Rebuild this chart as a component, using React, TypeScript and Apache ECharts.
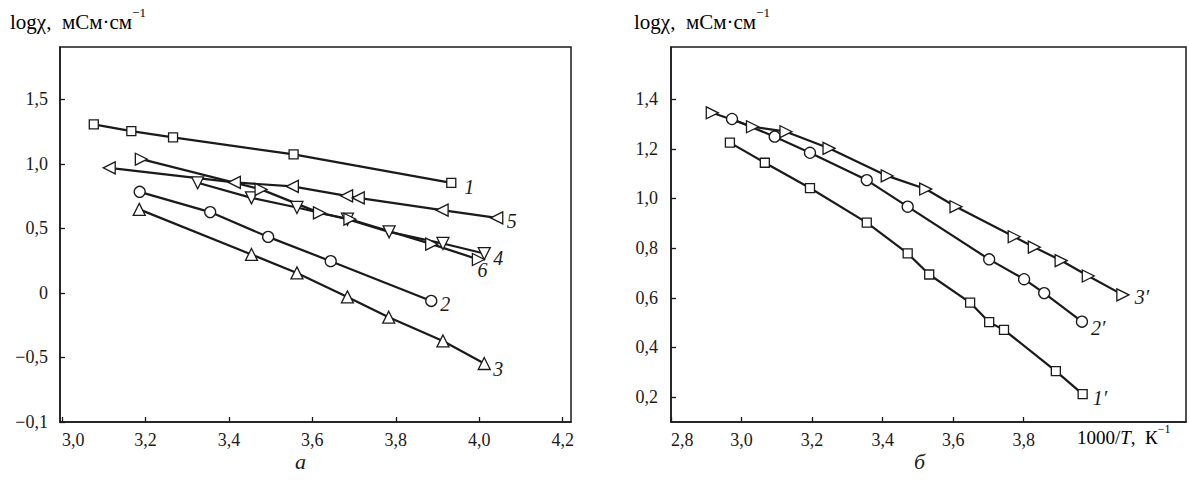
import React, { useEffect, useRef } from "react";
import * as echarts from "echarts";

// ---- Panel a (left) ----
const s1x = [3.076, 3.166, 3.266, 3.555, 3.933];
const s1y = [1.305, 1.253, 1.205, 1.073, 0.853];
const s2x = [3.186, 3.355, 3.494, 3.644, 3.885];
const s2y = [0.783, 0.626, 0.434, 0.246, -0.062];
const s3x = [3.185, 3.454, 3.563, 3.684, 3.783, 3.913, 4.012];
const s3y = [0.647, 0.298, 0.155, -0.031, -0.188, -0.372, -0.547];
const s4x = [3.325, 3.454, 3.563, 3.684, 3.784, 3.913, 4.012];
const s4y = [0.853, 0.736, 0.662, 0.571, 0.473, 0.383, 0.305];
const s5x = [3.113, 3.413, 3.552, 3.682, 3.71, 3.911, 4.042];
const s5y = [0.969, 0.856, 0.825, 0.752, 0.736, 0.641, 0.581];
const s6x = [3.19, 3.477, 3.617, 3.69, 3.886, 3.998];
const s6y = [1.036, 0.802, 0.62, 0.571, 0.378, 0.259];

const leftXTicks = [3.0, 3.2, 3.4, 3.6, 3.8, 4.0, 4.2];
const leftXLabels = ["3,0", "3,2", "3,4", "3,6", "3,8", "4,0", "4,2"];
const leftYTicks = [-1.0, -0.5, 0, 0.5, 1.0, 1.5];
const leftYLabels = ["−0,1", "−0,5", "0", "0,5", "1,0", "1,5"];

// ---- Panel б (right) ----
const r1x = [2.967, 3.066, 3.194, 3.355, 3.471, 3.532, 3.648, 3.702, 3.744, 3.891, 3.967];
const r1y = [1.225, 1.144, 1.042, 0.903, 0.779, 0.694, 0.581, 0.502, 0.471, 0.305, 0.212];
const r2x = [2.973, 3.094, 3.194, 3.355, 3.471, 3.702, 3.801, 3.858, 3.965];
const r2y = [1.32, 1.249, 1.184, 1.074, 0.967, 0.755, 0.675, 0.619, 0.504];
const r3x = [2.917, 3.031, 3.126, 3.248, 3.413, 3.522, 3.608, 3.773, 3.83, 3.906, 3.983, 4.081];
const r3y = [1.345, 1.289, 1.269, 1.202, 1.091, 1.038, 0.967, 0.846, 0.804, 0.75, 0.688, 0.612];

const rightXTicks = [2.8, 3.0, 3.2, 3.4, 3.6, 3.8];
const rightXLabels = ["2,8", "3,0", "3,2", "3,4", "3,6", "3,8"];
const rightYTicks = [0.2, 0.4, 0.6, 0.8, 1.0, 1.2, 1.4];
const rightYLabels = ["0,2", "0,4", "0,6", "0,8", "1,0", "1,2", "1,4"];

const FONT = "Liberation Serif, serif";
const INK = "#1a1a1a";

const zip = (xs: number[], ys: number[]) => xs.map((x, i) => [x, ys[i]]);
const fmt = (ticks: number[], labels: string[]) => (v: number) => {
  const i = ticks.findIndex((t) => Math.abs(t - v) < 1e-6);
  return i >= 0 ? labels[i] : "";
};

function mkSeries(
  name: string,
  xs: number[],
  ys: number[],
  idx: number,
  symbol: string,
  size: number,
  rotate: number,
  label: string,
  offset: [number, number]
) {
  return {
    name,
    type: "line",
    xAxisIndex: idx,
    yAxisIndex: idx,
    data: zip(xs, ys),
    symbol,
    symbolSize: size,
    symbolRotate: rotate,
    showAllSymbol: true,
    lineStyle: { color: INK, width: 2.2 },
    itemStyle: { color: "#fff", borderColor: INK, borderWidth: 1.3 },
    emphasis: { disabled: true },
    z: 3,
    endLabel: {
      show: true,
      formatter: label,
      distance: 0,
      offset,
      align: "left",
      verticalAlign: "middle",
      fontFamily: FONT,
      fontStyle: "italic",
      fontSize: 20,
      color: INK,
    },
  };
}

function axisCommon() {
  return {
    axisLine: { show: true, onZero: false, lineStyle: { color: INK, width: 1.5 } },
    axisTick: { show: true, inside: true, length: 5, lineStyle: { color: INK, width: 1.3 } },
    splitLine: { show: false },
  };
}

const titleRich = {
  a: { fontFamily: FONT, fontSize: 21, color: INK, lineHeight: 26, verticalAlign: "bottom" },
  i: { fontFamily: FONT, fontSize: 21, fontStyle: "italic", color: INK, lineHeight: 26, verticalAlign: "bottom" },
  s: { fontFamily: FONT, fontSize: 13, color: INK, lineHeight: 26, verticalAlign: "top" },
};

export default function App() {
  const ref = useRef<HTMLDivElement>(null);
  useEffect(() => {
    document.body.style.margin = "0";
    if (!ref.current) return;
    const chart = echarts.init(ref.current, null, { renderer: "svg" });
    const labelStyle = { fontFamily: FONT, fontSize: 18, color: INK };
    const option: any = {
      animation: false,
      backgroundColor: "#fff",
      textStyle: { fontFamily: FONT },
      grid: [
        { left: 60, top: 47, width: 511, height: 375, show: true, borderColor: INK, borderWidth: 1.5, backgroundColor: "transparent" },
        { left: 671, top: 47, width: 515, height: 375, show: true, borderColor: INK, borderWidth: 1.5, backgroundColor: "transparent" },
      ],
      xAxis: [
        {
          type: "value",
          gridIndex: 0,
          min: 2.995,
          max: 4.22,
          ...axisCommon(),
          axisTick: { ...axisCommon().axisTick, customValues: leftXTicks },
          axisLabel: { ...labelStyle, customValues: leftXTicks, margin: 9, formatter: fmt(leftXTicks, leftXLabels), alignMinLabel: "left" },
        },
        {
          type: "value",
          gridIndex: 1,
          min: 2.8,
          max: 4.26,
          ...axisCommon(),
          axisTick: { ...axisCommon().axisTick, customValues: rightXTicks },
          axisLabel: { ...labelStyle, customValues: rightXTicks, margin: 9, formatter: fmt(rightXTicks, rightXLabels), alignMinLabel: "left" },
        },
      ],
      yAxis: [
        {
          type: "value",
          gridIndex: 0,
          min: -1.0,
          max: 1.905,
          ...axisCommon(),
          axisTick: { ...axisCommon().axisTick, customValues: leftYTicks },
          axisLabel: { ...labelStyle, customValues: leftYTicks, margin: 12, formatter: fmt(leftYTicks, leftYLabels) },
        },
        {
          type: "value",
          gridIndex: 1,
          min: 0.1,
          max: 1.61,
          ...axisCommon(),
          axisTick: { ...axisCommon().axisTick, customValues: rightYTicks },
          axisLabel: { ...labelStyle, customValues: rightYTicks, margin: 13, formatter: fmt(rightYTicks, rightYLabels) },
        },
      ],
      series: [
        mkSeries("1", s1x, s1y, 0, "rect", 9, 0, "1", [13, 4]),
        mkSeries("2", s2x, s2y, 0, "circle", 11, 0, "2", [9, 3]),
        mkSeries("3", s3x, s3y, 0, "triangle", 12, 0, "3", [9, 5]),
        mkSeries("4", s4x, s4y, 0, "triangle", 12, 180, "4", [9, 4]),
        mkSeries("5", s5x, s5y, 0, "triangle", 12, 90, "5", [10, 3]),
        mkSeries("6", s6x, s6y, 0, "triangle", 12, -90, "6", [-1, 11]),
        mkSeries("1'", r1x, r1y, 1, "rect", 9, 0, "1′", [10, 4]),
        mkSeries("2'", r2x, r2y, 1, "circle", 11, 0, "2′", [9, 6]),
        mkSeries("3'", r3x, r3y, 1, "triangle", 12, -90, "3′", [12, 2]),
      ],
      graphic: [
        {
          type: "text",
          left: 10,
          top: 6,
          style: { text: "{a|logχ,  мСм·см}{s|−1}", rich: titleRich },
        },
        {
          type: "text",
          left: 634,
          top: 6,
          style: { text: "{a|logχ,  мСм·см}{s|−1}", rich: titleRich },
        },
        {
          type: "text",
          left: 1077,
          top: 423,
          style: {
            text: "{a|1000/}{i|T}{a|,  К}{s|−1}",
            rich: {
              a: { fontFamily: FONT, fontSize: 19, color: INK, lineHeight: 24, verticalAlign: "bottom" },
              i: { fontFamily: FONT, fontSize: 19, fontStyle: "italic", color: INK, lineHeight: 24, verticalAlign: "bottom" },
              s: { fontFamily: FONT, fontSize: 12, color: INK, lineHeight: 24, verticalAlign: "top" },
            },
          },
        },
        {
          type: "text",
          left: 295,
          top: 450,
          style: { text: "а", fontFamily: FONT, fontSize: 22, fontStyle: "italic", fill: INK },
        },
        {
          type: "text",
          left: 914,
          top: 450,
          style: { text: "б", fontFamily: FONT, fontSize: 22, fontStyle: "italic", fill: INK },
        },
      ],
    };
    chart.setOption(option);
    return () => chart.dispose();
  }, []);
  return <div ref={ref} style={{ width: 1189, height: 487 }} />;
}
